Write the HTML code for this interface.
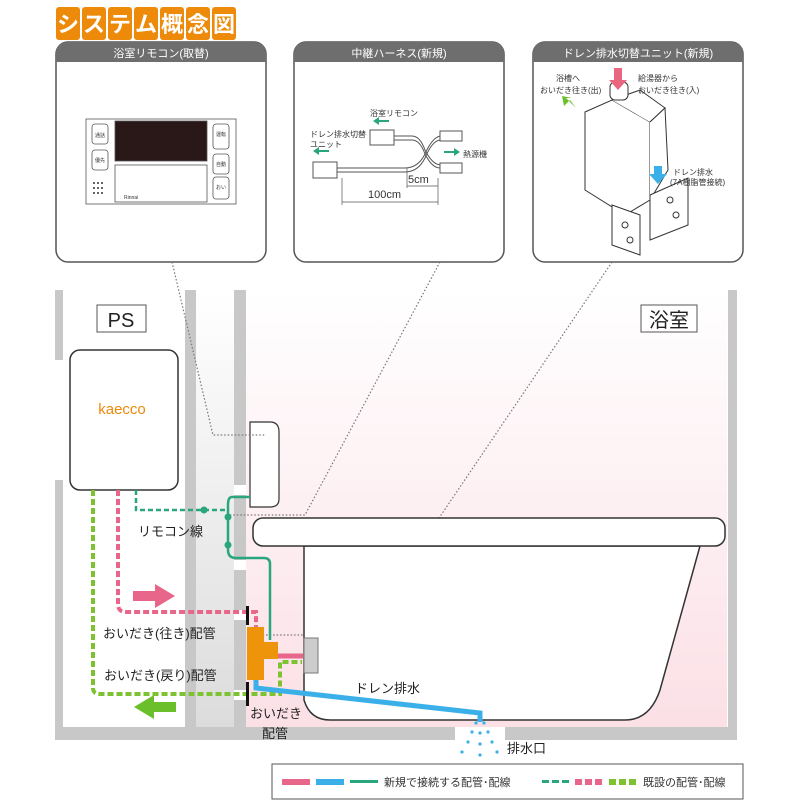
<!DOCTYPE html>
<html><head><meta charset="utf-8"><style>
body{margin:0;background:#fff;}
svg{display:block;font-family:"Liberation Sans","Noto Sans CJK JP",sans-serif;}
</style></head><body>
<svg width="800" height="806" viewBox="0 0 800 806" xmlns="http://www.w3.org/2000/svg">
<defs>
<linearGradient id="pk" x1="0" y1="0" x2="0" y2="1"><stop offset="0" stop-color="#fff"/><stop offset="1" stop-color="#fbe0e6"/></linearGradient>
<linearGradient id="gy" x1="0" y1="0" x2="0" y2="1"><stop offset="0" stop-color="#fff"/><stop offset="1" stop-color="#dcdcdc"/></linearGradient>
</defs>
<!-- title -->
<g font-size="22" font-weight="bold" fill="#fff" text-anchor="middle">
<rect x="56" y="7" width="24" height="33" rx="3" fill="#ee8a0a"/><text x="68" y="32">シ</text>
<rect x="82" y="7" width="24" height="33" rx="3" fill="#ee8a0a"/><text x="94" y="32">ス</text>
<rect x="108" y="7" width="24" height="33" rx="3" fill="#ee8a0a"/><text x="120" y="32">テ</text>
<rect x="134" y="7" width="24" height="33" rx="3" fill="#ee8a0a"/><text x="146" y="32">ム</text>
<rect x="160" y="7" width="24" height="33" rx="3" fill="#ee8a0a"/><text x="172" y="32">概</text>
<rect x="186" y="7" width="24" height="33" rx="3" fill="#ee8a0a"/><text x="198" y="32">念</text>
<rect x="212" y="7" width="24" height="33" rx="3" fill="#ee8a0a"/><text x="224" y="32">図</text>
</g>

<!-- panels -->
<g>
<rect x="56" y="42" width="210" height="220" rx="12" fill="#fff" stroke="#555" stroke-width="1.5"/>
<path d="M56 62 V54 Q56 42 68 42 H254 Q266 42 266 54 V62 Z" fill="#6e6e6e"/>
<text x="161" y="57" font-size="11" fill="#fff" text-anchor="middle">浴室リモコン(取替)</text>
<rect x="294" y="42" width="210" height="220" rx="12" fill="#fff" stroke="#555" stroke-width="1.5"/>
<path d="M294 62 V54 Q294 42 306 42 H492 Q504 42 504 54 V62 Z" fill="#6e6e6e"/>
<text x="399" y="57" font-size="11" fill="#fff" text-anchor="middle">中継ハーネス(新規)</text>
<rect x="533" y="42" width="210" height="220" rx="12" fill="#fff" stroke="#555" stroke-width="1.5"/>
<path d="M533 62 V54 Q533 42 545 42 H731 Q743 42 743 54 V62 Z" fill="#6e6e6e"/>
<text x="638" y="57" font-size="11" fill="#fff" text-anchor="middle">ドレン排水切替ユニット(新規)</text>
</g>
<!-- remote -->
<g stroke="#555" stroke-width="0.8" fill="#fff">
<rect x="86" y="119" width="150" height="85"/>
<rect x="115" y="121" width="92" height="40" fill="#2a1818"/>
<rect x="115" y="165" width="92" height="37"/>
<rect x="92" y="124" width="16" height="20" rx="3"/><rect x="92" y="150" width="16" height="20" rx="3"/>
<rect x="213" y="124" width="16" height="25" rx="3"/><rect x="213" y="154" width="16" height="20" rx="3"/><rect x="213" y="177" width="16" height="22" rx="3"/>
</g>
<g font-size="5" fill="#333"><text x="95" y="137">通話</text><text x="95" y="162">優先</text><text x="216" y="136">運転</text><text x="216" y="166">自動</text><text x="216" y="189">おい</text><text x="124" y="199">Rinnai</text></g>
<g fill="#333"><circle cx="94" cy="183" r="1"/><circle cx="98" cy="183" r="1"/><circle cx="102" cy="183" r="1"/><circle cx="94" cy="188" r="1"/><circle cx="98" cy="188" r="1"/><circle cx="102" cy="188" r="1"/><circle cx="94" cy="193" r="1"/><circle cx="98" cy="193" r="1"/><circle cx="102" cy="193" r="1"/></g>
<!-- harness -->
<g stroke="#555" stroke-width="1" fill="none">
<rect x="370" y="130" width="24" height="15" fill="#fff"/>
<rect x="313" y="162" width="24" height="16" fill="#fff"/>
<path d="M394 136 H412 Q420 136 425 150 Q432 164 440 165 H460"/>
<path d="M394 140 H412 Q420 140 425 154 Q432 168 440 168 H460"/>
<path d="M337 168 H405 Q418 168 425 154 Q432 138 440 136 H460"/>
<path d="M337 172 H405 Q418 172 425 158 Q432 141 440 140 H460"/>
<rect x="440" y="131" width="22" height="10" fill="#fff"/><rect x="440" y="163" width="22" height="10" fill="#fff"/>
<path d="M342 178 V205 M438 178 V205 M407 168 V188 M342 202 H438 M407 186 H438" stroke-width="0.7"/>
</g>
<g font-size="8" fill="#333"><text x="370" y="116">浴室リモコン</text><text x="310" y="137">ドレン排水切替</text><text x="310" y="147">ユニット</text><text x="463" y="157">熱源機</text><text x="408" y="183" font-size="11">5cm</text><text x="368" y="198" font-size="11">100cm</text></g>
<g fill="#2aa67e"><path d="M373 121 l6 -4 v3 h10 v2 h-10 v3z"/><path d="M313 151 l6 -4 v3 h10 v2 h-10 v3z"/><path d="M460 152 l-6 -4 v3 h-10 v2 h10 v3z"/></g>
<!-- drain unit -->
<g stroke="#333" stroke-width="1" fill="#fff">
<path d="M585 112 L612 100 L650 122 L650 200 L625 215 L585 190 Z"/>
<path d="M612 100 L640 90 L665 108 L650 122"/>
<path d="M650 122 L665 108 L668 170 L650 200"/>
<rect x="610" y="82" width="18" height="18" rx="5"/>
<path d="M612 205 L640 215 L640 255 L612 245 Z M650 195 L688 178 L688 225 L650 240 Z"/>
<circle cx="625" cy="225" r="3"/><circle cx="630" cy="240" r="3"/><circle cx="670" cy="200" r="3"/><circle cx="676" cy="215" r="3"/>
</g>
<g font-size="8" fill="#333"><text x="556" y="81">浴槽へ</text><text x="540" y="93">おいだき往き(出)</text><text x="638" y="81">給湯器から</text><text x="638" y="93">おいだき往き(入)</text><text x="673" y="175">ドレン排水</text><text x="670" y="185">(7A樹脂管接続)</text></g>
<path d="M614 68 h8 v12 h5 l-9 10 l-9 -10 h5z" fill="#e8667f"/>
<path d="M570 100 l-6 6 l-2 -10 l10 2 l-6 0 l10 10 z" fill="#6bbf2a"/>
<path d="M654 166 h8 v8 h5 l-9 10 l-9 -10 h5z" fill="#3bb0e8"/>

<!-- room background -->
<rect x="246" y="290" width="481" height="437" fill="url(#pk)"/>
<rect x="196" y="290" width="38" height="437" fill="url(#gy)"/>
<g fill="#c8c8c8">
<rect x="55" y="290" width="8" height="70"/>
<rect x="55" y="480" width="8" height="260"/>
<rect x="185" y="290" width="11" height="450"/>
<rect x="234" y="290" width="12" height="437"/>
<rect x="728" y="290" width="9" height="450"/>
<rect x="55" y="727" width="400" height="13"/>
<rect x="505" y="727" width="232" height="13"/>
</g>
<g fill="#fff"><rect x="234" y="485" width="12" height="10"/><rect x="234" y="560" width="12" height="10"/><rect x="234" y="610" width="12" height="10"/><rect x="234" y="690" width="12" height="10"/></g>
<rect x="97" y="305" width="49" height="27" fill="#fff" stroke="#555"/><text x="121" y="327" font-size="20" text-anchor="middle" fill="#222">PS</text>
<rect x="641" y="305" width="56" height="27" fill="#fff" stroke="#555"/><text x="669" y="327" font-size="20" text-anchor="middle" fill="#222">浴室</text>
<!-- heater -->
<rect x="70" y="350" width="108" height="140" rx="10" fill="#fff" stroke="#333" stroke-width="1.5"/>
<text x="122" y="414" font-size="15" fill="#ee8a0a" text-anchor="middle">kaecco</text>
<!-- remote on wall -->
<path d="M250 422 H270 Q279 422 279 432 V499 Q279 507 270 507 H250 Z" fill="#fff" stroke="#333" stroke-width="1.2"/>
<!-- dotted leaders -->
<g stroke="#777" stroke-width="1.2" stroke-dasharray="1.5 2" fill="none">
<path d="M172 262 L213 435 H265"/>
<path d="M440 262 L305 515 H230"/>
<path d="M612 262 L360 635 H262"/>
</g>
<!-- tub -->
<path d="M304 546 V700 Q310 720 330 720 H625 Q650 720 660 690 L700 546 Z" fill="#fff" stroke="#333" stroke-width="1.5"/>
<rect x="253" y="518" width="472" height="28" rx="10" fill="#fff" stroke="#333" stroke-width="1.5"/>
<rect x="304" y="638" width="14" height="35" fill="#ccc" stroke="#777"/>
<!-- pipes -->
<g fill="none" stroke-width="4">
<path d="M93 490 V688 Q93 694 100 694 H280 V662 H302" stroke="#7cc231" stroke-dasharray="6 3"/>
<path d="M118 490 V604 Q118 612 126 612 H256 V627" stroke="#e8668a" stroke-dasharray="6 3"/>
<path d="M136 490 V510 H228" stroke="#2aa67e" stroke-width="2.5" stroke-dasharray="5 3"/>
<path d="M250 497 H232 Q228 497 228 505 V550 Q228 558 236 558 H264 Q270 558 270 564 V640" stroke="#2aa67e" stroke-width="2.5"/>
<path d="M278 656 H303" stroke="#e8668a" stroke-width="5"/>
<path d="M256 678 V688 L480 713 V722" stroke="#3bb0e8" stroke-width="5"/>
</g>
<circle cx="228" cy="517" r="3.5" fill="#2aa67e"/><circle cx="228" cy="545" r="3.5" fill="#2aa67e"/><circle cx="204" cy="510" r="3.5" fill="#2aa67e"/>
<path d="M247 627 h17 v15 h14 v17 h-14 v21 h-17 z" fill="#ee940a"/>
<rect x="246" y="606" width="3" height="19" fill="#111"/><rect x="246" y="682" width="3" height="24" fill="#111"/>
<path d="M133 591 h22 v-7 l20 12 l-20 12 v-7 h-22z" fill="#e8668a"/>
<path d="M176 702 h-22 v-7 l-20 12 l20 12 v-7 h22z" fill="#6bbf2a"/>
<g fill="#3bb0e8"><circle cx="476" cy="723" r="1.6"/><circle cx="484" cy="723" r="1.6"/><circle cx="472" cy="732" r="1.6"/><circle cx="480" cy="733" r="1.6"/><circle cx="488" cy="732" r="1.6"/><circle cx="468" cy="742" r="1.6"/><circle cx="480" cy="744" r="1.6"/><circle cx="492" cy="742" r="1.6"/><circle cx="462" cy="752" r="1.6"/><circle cx="480" cy="755" r="1.6"/><circle cx="497" cy="752" r="1.6"/></g>
<!-- labels -->
<g font-size="13" fill="#222">
<text x="138" y="536">リモコン線</text>
<text x="103" y="638">おいだき(往き)配管</text>
<text x="104" y="680">おいだき(戻り)配管</text>
<text x="250" y="718">おいだき</text>
<text x="262" y="738">配管</text>
<text x="355" y="693">ドレン排水</text>
<text x="507" y="753">排水口</text>
</g>
<!-- legend -->
<rect x="272" y="764" width="471" height="35" fill="#fff" stroke="#555"/>
<rect x="282" y="779" width="28" height="6" fill="#e8668a"/><rect x="316" y="779" width="28" height="6" fill="#3bb0e8"/><rect x="350" y="780" width="28" height="3" fill="#2aa67e"/>
<text x="384" y="786" font-size="11" fill="#333">新規で接続する配管･配線</text>
<g fill="#2aa67e"><rect x="542" y="780" width="7" height="3"/><rect x="552" y="780" width="7" height="3"/><rect x="562" y="780" width="7" height="3"/></g>
<g fill="#e8668a"><rect x="575" y="779" width="7" height="6"/><rect x="585" y="779" width="7" height="6"/><rect x="595" y="779" width="7" height="6"/></g>
<g fill="#7cc231"><rect x="609" y="779" width="7" height="6"/><rect x="619" y="779" width="7" height="6"/><rect x="629" y="779" width="7" height="6"/></g>
<text x="643" y="786" font-size="11" fill="#333">既設の配管･配線</text>
</svg>
</body></html>
